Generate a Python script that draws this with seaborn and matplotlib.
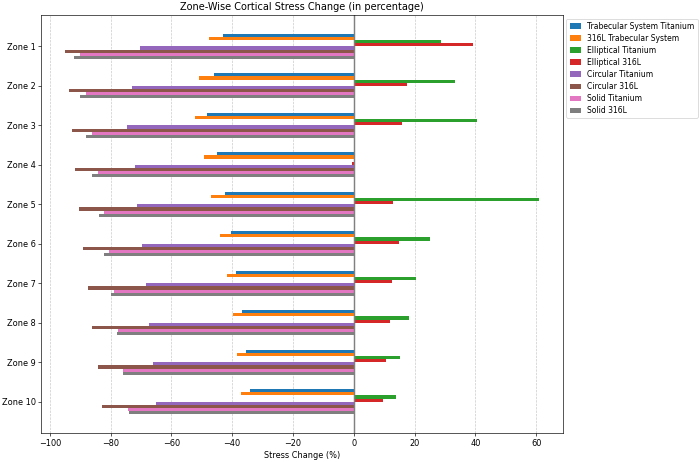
import pandas as pd
import matplotlib
matplotlib.use("Agg")
import matplotlib.pyplot as plt
import seaborn as sns

# Data (stress change in %)
zones = ["Zone 1", "Zone 2", "Zone 3", "Zone 4", "Zone 5",
         "Zone 6", "Zone 7", "Zone 8", "Zone 9", "Zone 10"]

trabecular_ti = [-43.0, -46.1, -48.3, -44.9, -42.2, -40.3, -38.7, -36.7, -35.4, -34.0]
trabecular_316l = [-47.5, -50.9, -52.2, -49.2, -47.0, -44.0, -41.7, -39.7, -38.3, -37.0]
elliptical_ti = [28.6, 33.2, 40.4, 0.3, 60.8, 25.0, 20.4, 18.2, 15.2, 13.9]
elliptical_316l = [39.1, 17.6, 15.9, -0.6, 13.0, 14.7, 12.7, 11.9, 10.7, 9.7]
circular_ti = [-70.2, -73.1, -74.5, -72.1, -71.2, -69.8, -68.5, -67.2, -65.9, -65.2]
circular_316l = [-95.0, -93.8, -92.8, -91.6, -90.5, -89.0, -87.5, -86.0, -84.1, -82.8]
solid_ti = [-90.2, -88.0, -86.0, -84.1, -82.1, -80.4, -78.8, -77.5, -75.8, -74.2]
solid_316l = [-92.0, -90.0, -88.0, -86.0, -83.9, -82.0, -79.7, -77.9, -76.0, -74.1]

series = {
    "Trabecular System Titanium": trabecular_ti,
    "316L Trabecular System": trabecular_316l,
    "Elliptical Titanium": elliptical_ti,
    "Elliptical 316L": elliptical_316l,
    "Circular Titanium": circular_ti,
    "Circular 316L": circular_316l,
    "Solid Titanium": solid_ti,
    "Solid 316L": solid_316l,
}

# Long format for seaborn
rows = []
for name, vals in series.items():
    for z, v in zip(zones, vals):
        rows.append({"Zone": z, "Design": name, "Change": v})
df = pd.DataFrame(rows)

# Figure: 12x7.93 in at 58.25 dpi -> 699x462 px
fig, ax = plt.subplots(figsize=(12, 462 / 58.25), dpi=58.25)
fig.subplots_adjust(left=0.059, right=0.805, top=0.968, bottom=0.062)

sns.barplot(data=df, x="Change", y="Zone", hue="Design", orient="h",
            palette="tab10", saturation=1, width=0.64, errorbar=None, ax=ax)

ax.axvline(0, color="gray", linewidth=1.8)
ax.grid(axis="x", linestyle="--", alpha=0.7)
ax.set_axisbelow(True)

ax.set_xlim(-102.8, 68.7)
ax.set_ylim(9.8, -0.8)
ax.set_title("Zone-Wise Cortical Stress Change (in percentage)")
ax.set_xlabel("Stress Change (%)")
ax.set_ylabel("")
ax.legend(bbox_to_anchor=(1.0, 1.0), loc="upper left", fontsize=9.4,
          handlelength=1.55, labelspacing=0.4, borderaxespad=0.5)

plt.savefig("out.png", dpi=58.25)
